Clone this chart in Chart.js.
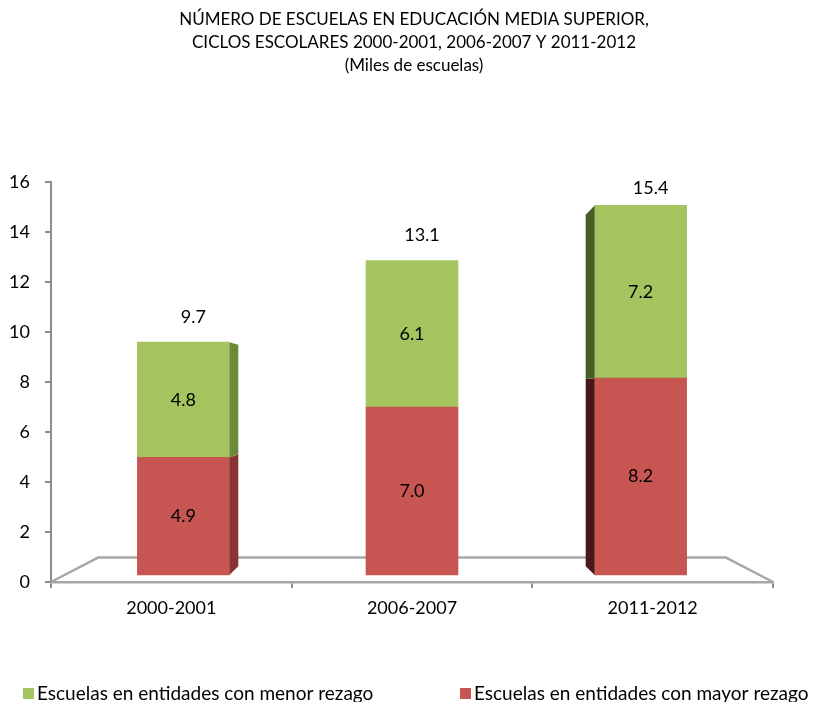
<!DOCTYPE html>
<html>
<head>
<meta charset="utf-8">
<script src="https://cdn.jsdelivr.net/npm/chart.js@4.4.0/dist/chart.umd.min.js"></script>
<style>
html,body{margin:0;padding:0;background:#ffffff;}
#wrap{position:relative;width:828px;height:702px;}
</style>
</head>
<body>
<div id="wrap"><canvas id="c" width="828" height="702"></canvas></div>
<script>
// ---- data ----
const categories = ['2000-2001', '2006-2007', '2011-2012'];
const mayorRezago = [4.9, 7.0, 8.2];
const menorRezago = [4.8, 6.1, 7.2];
const yTicks = [0, 2, 4, 6, 8, 10, 12, 14, 16];
const seriesNames = ['Escuelas en entidades con mayor rezago', 'Escuelas en entidades con menor rezago'];
const titleLines = [
  'NÚMERO DE ESCUELAS EN EDUCACIÓN MEDIA SUPERIOR,',
  'CICLOS ESCOLARES 2000-2001, 2006-2007 Y 2011-2012',
  '(Miles de escuelas)'
];

// ---- styling / 3D perspective settings ----
const FONT = 'Lato';
const VX = 0.5, VY = 0.47;       // vanishing point (fraction of chart area, y from bottom)
const BAR_DEPTH = 0.05;           // depth of bar front face (horizontal shrink)
const BAR_Y_SCALE = 0.96;         // vertical scale of bars relative to the axis
const BAR_BASE = 0.0175;          // lift of bar bases above the axis line (fraction of height)
const SIDE_DEPTH = 0.049;         // visible side face depth
const FLOOR_DEPTH = 0.13;         // floor depth
const nCat = categories.length;
const yMax = yTicks[yTicks.length - 1];

// bar axes placed at bar depth (perspective shrink toward vanishing point)
const ax = (1 - BAR_DEPTH) / nCat, bx = (1 - BAR_DEPTH) / (2 * nCat) + BAR_DEPTH * VX;
const xbMin = -bx / ax, xbMax = (1 - bx) / ax;
const ay = BAR_Y_SCALE / yMax, by = BAR_BASE;
const ybMin = -by / ay, ybMax = (1 - by) / ay;

function vp(chart) {
  const a = chart.chartArea;
  return { vx: a.left + (a.right - a.left) * VX, vy: a.bottom - (a.bottom - a.top) * VY };
}

const floorPlugin = {
  id: 'floor3d',
  beforeDatasetsDraw(chart) {
    const ctx = chart.ctx, a = chart.chartArea, {vx, vy} = vp(chart);
    const back = (x, y) => [x + (vx - x) * FLOOR_DEPTH, y + (vy - y) * FLOOR_DEPTH];
    const bl = back(a.left, a.bottom), br = back(a.right, a.bottom);
    ctx.save();
    ctx.strokeStyle = '#A6A6A6';
    ctx.lineWidth = 2.5;
    ctx.lineJoin = 'round';
    ctx.beginPath();
    ctx.moveTo(a.left, a.bottom);
    ctx.lineTo(bl[0], bl[1]);
    ctx.lineTo(br[0], br[1]);
    ctx.lineTo(a.right, a.bottom);
    ctx.stroke();
    ctx.restore();
  }
};

const sidePlugin = {
  id: 'side3d',
  afterDatasetsDraw(chart) {
    const ctx = chart.ctx, {vx, vy} = vp(chart);
    ctx.save();
    chart.data.datasets.forEach((ds, di) => {
      const meta = chart.getDatasetMeta(di);
      meta.data.forEach(el => {
        const p = el.getProps(['x', 'y', 'base', 'width'], true);
        const left = p.x - p.width / 2, right = p.x + p.width / 2;
        let e, col;
        if (vx - right > 0.5) { e = right; col = ds.sideColors[0]; }
        else if (vx - left < -0.5) { e = left; col = ds.sideColors[1]; }
        else return;
        const ex = e + (vx - e) * SIDE_DEPTH;
        ctx.fillStyle = col;
        ctx.beginPath();
        ctx.moveTo(e, p.y);
        ctx.lineTo(ex, p.y + (vy - p.y) * SIDE_DEPTH);
        ctx.lineTo(ex, p.base + (vy - p.base) * SIDE_DEPTH);
        ctx.lineTo(e, p.base);
        ctx.closePath();
        ctx.fill();
      });
    });
    ctx.restore();
  }
};

const labelPlugin = {
  id: 'labels3d',
  afterDatasetsDraw(chart) {
    const ctx = chart.ctx, a = chart.chartArea;
    ctx.save();
    ctx.fillStyle = '#000';
    ctx.font = '18px ' + FONT;
    ctx.textAlign = 'center';
    ctx.textBaseline = 'middle';
    chart.data.datasets.forEach((ds, di) => {
      const meta = chart.getDatasetMeta(di);
      meta.data.forEach((el, i) => {
        const p = el.getProps(['x', 'y', 'base'], true);
        ctx.fillText(ds.data[i].y.toFixed(1), p.x, (p.y + p.base) / 2);
      });
    });
    const last = chart.getDatasetMeta(chart.data.datasets.length - 1);
    last.data.forEach((el, i) => {
      const p = el.getProps(['x', 'y'], true);
      const total = mayorRezago[i] + menorRezago[i];
      ctx.fillText(total.toFixed(1), p.x + 10, Math.max(p.y - 25, a.top + 6));
    });
    ctx.restore();
  }
};

const legendPlugin = {
  id: 'legendCustom',
  afterDraw(chart) {
    const ctx = chart.ctx;
    const xs = [23, 460];
    const yc = 693.5;
    const items = chart.data.datasets.slice().reverse();
    ctx.save();
    ctx.font = '19px ' + FONT;
    ctx.textBaseline = 'middle';
    ctx.textAlign = 'left';
    items.forEach((ds, k) => {
      ctx.fillStyle = ds.backgroundColor;
      ctx.fillRect(xs[k], yc - 5.5, 11, 11);
      ctx.fillStyle = '#000';
      ctx.fillText(ds.label, xs[k] + 14, yc);
    });
    ctx.restore();
  }
};

new Chart(document.getElementById('c'), {
  type: 'bar',
  data: {
    labels: categories,
    datasets: [
      { label: seriesNames[0], data: mayorRezago.map((v, i) => ({x: i, y: v})),
        backgroundColor: '#C75552', sideColors: ['#8A3533', '#4A1717'],
        xAxisID: 'xb', yAxisID: 'yb' },
      { label: seriesNames[1], data: menorRezago.map((v, i) => ({x: i, y: v})),
        backgroundColor: '#A3C45F', sideColors: ['#6B8B3B', '#495C26'],
        xAxisID: 'xb', yAxisID: 'yb' }
    ]
  },
  options: {
    responsive: false,
    animation: false,
    devicePixelRatio: 1,
    layout: { padding: { left: 0, right: 0, top: 0, bottom: 70 } },
    datasets: { bar: { barThickness: 92 } },
    plugins: {
      legend: { display: false },
      tooltip: { enabled: false },
      title: {
        display: true, text: titleLines, color: '#000',
        font: { family: FONT, size: 17, weight: 'normal', lineHeight: 1.353 },
        padding: { top: 8.5, bottom: 104.5 }
      }
    },
    scales: {
      x: {
        type: 'category', position: 'bottom', offset: true,
        grid: { offset: true, drawOnChartArea: false, drawTicks: true, tickLength: 6, color: '#8C8C8C', lineWidth: 2 },
        border: { display: true, color: '#A6A6A6', width: 2.5 },
        ticks: { color: '#000', font: { family: FONT, size: 18 }, padding: 9 },
        afterFit: s => { s.height = 50; }
      },
      y: {
        type: 'linear', position: 'left', min: yTicks[0], max: yMax,
        afterBuildTicks: s => { s.ticks = yTicks.map(v => ({ value: v })); },
        grid: { drawOnChartArea: false, drawTicks: true, tickLength: 6, color: '#8C8C8C', lineWidth: 2 },
        border: { display: true, color: '#8C8C8C', width: 2 },
        ticks: { color: '#000', font: { family: FONT, size: 18 }, padding: 15 },
        afterFit: s => { s.width = 51; }
      },
      xb: { type: 'linear', display: false, stacked: true, offset: false, min: xbMin, max: xbMax },
      yb: {
        type: 'linear', display: true, position: 'right', stacked: true, min: ybMin, max: ybMax,
        grid: { display: false }, border: { display: false }, ticks: { display: false },
        afterFit: s => { s.width = 55; }
      }
    }
  },
  plugins: [floorPlugin, sidePlugin, labelPlugin, legendPlugin]
});
</script>
</body>
</html>
